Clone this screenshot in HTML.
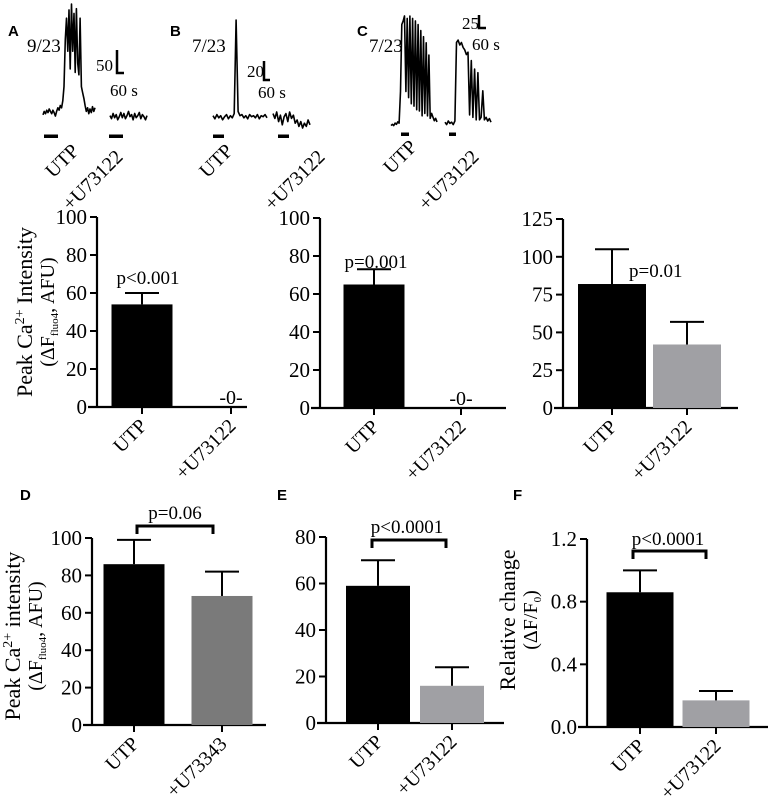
<!DOCTYPE html>
<html><head><meta charset="utf-8"><style>
body{margin:0;background:#fff;}
svg{display:block;}
text{font-family:"Liberation Serif","Times New Roman",serif;}
text.lt{font-family:"Liberation Sans",Arial,sans-serif;font-weight:bold;font-size:15px;}
</style></head><body>
<svg id="fig" width="772" height="807" viewBox="0 0 772 807">
<g id="traces"></g>
<g id="charts"></g>
</svg>
<script>
// ---- bar chart data ----
const catsABC = ["UTP", "+U73122"];
const catsD = ["UTP", "+U73343"];
const valsA = [54, 0];  const errA = [6, 0];
const valsB = [65, 0];  const errB = [8, 0];
const valsC = [82, 42]; const errC = [23, 15];
const valsD = [86, 69]; const errD = [13, 13];
const valsE = [59, 16]; const errE = [11, 8];
const valsF = [0.86, 0.17]; const errF = [0.14, 0.06];
const ticksA = [0, 20, 40, 60, 80, 100];
const ticksC = [0, 25, 50, 75, 100, 125];
const ticksE = [0, 20, 40, 60, 80];
const ticksF = [0, 0.4, 0.8, 1.2];
// ---- trace data (arbitrary fluorescence units) ----
const traceA1 = [6,9,7,10,8,11,9,7,10,8,5,9,12,10,14,12,18,30,70,88,60,95,45,100,60,92,42,96,50,40,88,30,25,20,14,9,12,7,11,8,13,9,12];
const traceA2 = [10,7,12,8,11,6,9,13,8,12,7,10,14,9,11,6,12,8,10,13,7,11,9,6,10];
const traceB1 = [8,5,9,6,8,4,7,9,5,8,6,10,100,12,8,9,6,8,5,9,7,8,6,9,5,8,7,9,6];
const traceB2 = [9,6,10,4,8,2,7,9,4,10,6,8,3,5,1,4,0,3,1,5,2];
const traceC1 = [2,3,2,4,3,5,4,30,85,88,92,30,90,25,92,20,90,18,88,15,85,14,80,10,75,12,70,10,60,8,12,9,6,8,5];
const traceC2 = [4,2,5,3,4,2,5,70,72,68,70,66,64,60,62,10,55,8,48,6,45,6,8,30,6,8,5,7,4];

const NS = "http://www.w3.org/2000/svg";
const SERIF = '"Liberation Serif", "Times New Roman", serif';
function mk(parent, tag, attrs, name, text){
  const e = document.createElementNS(NS, tag);
  for (const k in attrs) e.setAttribute(k, attrs[k]);
  
  
  if (tag === 'text' && !attrs['class']) e.setAttribute('font-family', SERIF);
  if (text !== undefined) e.textContent = text;
  parent.appendChild(e);
  return e;
}
const T = document.getElementById('traces');
const C = document.getElementById('charts');

function trace(vals, x0, x1, yBase, yTop, vmax, name){
  const pts = vals.map((v,i)=>{
    const x = x0 + (x1-x0)*i/(vals.length-1);
    const y = yBase - (yBase-yTop)*v/vmax;
    return x.toFixed(1)+','+y.toFixed(1);
  }).join(' ');
  mk(T,'polyline',{points:pts,fill:'none',stroke:'#000','stroke-width':1.6,'stroke-linejoin':'round'},name);
}
function stimBar(x0,x1,y,name){ mk(T,'rect',{x:x0,y:y-1.5,width:x1-x0,height:3.5,fill:'#000'},name); }
function rotLabel(parent,text,x,y,size,name){
  mk(parent,'text',{x:0,y:0,'text-anchor':'end','font-size':size,transform:`translate(${x} ${y}) rotate(-45)`},name,text);
}
function txt(parent,text,x,y,size,name,anchor){
  return mk(parent,'text',{x:x,y:y,'font-size':size,'text-anchor':anchor||'start'},name,text);
}

// Panel letters
[['A',8,36],['B',170,36],['C',357,36],['D',20,500],['E',277,500],['F',513,500]].forEach(p=>{
  mk(C,'text',{x:p[1],y:p[2],class:'lt'},'panel-label-'+p[0].toLowerCase(),p[0]);
});

// Traces A
trace(traceA1, 43, 95, 122, 4, 100, 'trace-a-utp');
trace(traceA2, 110, 147, 126, 100, 25, 'trace-a-u73122');
stimBar(44,58,136,'stim-bar-a-utp'); stimBar(109,123,136,'stim-bar-a-u73122');
txt(T,'9/23',27,52,19,'cell-count-a');
mk(T,'polyline',{points:'117,50 117,73 124,73',fill:'none',stroke:'#000','stroke-width':2.5},'scale-bar-a');
txt(T,'50',96,71,17,'scale-y-a'); txt(T,'60 s',110,96,17,'scale-x-a');
rotLabel(T,'UTP',80,152,20,'trace-label-a-utp'); rotLabel(T,'+U73122',124,158,20,'trace-label-a-u73122');

// Traces B
trace(traceB1, 213, 267, 124, 20, 100, 'trace-b-utp');
trace(traceB2, 273, 310, 128, 112, 10, 'trace-b-u73122');
stimBar(213,224,136,'stim-bar-b-utp'); stimBar(278,289,136,'stim-bar-b-u73122');
txt(T,'7/23',192,52,19,'cell-count-b');
mk(T,'polyline',{points:'264,61 264,80 270,80',fill:'none',stroke:'#000','stroke-width':2.5},'scale-bar-b');
txt(T,'20',247,77,17,'scale-y-b'); txt(T,'60 s',258,98,17,'scale-x-b');
rotLabel(T,'UTP',234,152,20,'trace-label-b-utp'); rotLabel(T,'+U73122',326,158,20,'trace-label-b-u73122');

// Traces C
trace(traceC1, 391, 437, 128, 16, 92, 'trace-c-utp');
trace(traceC2, 445, 491, 127, 16, 92, 'trace-c-u73122');
stimBar(401,409,134,'stim-bar-c-utp'); stimBar(449,456,134,'stim-bar-c-u73122');
txt(T,'7/23',369,52,19,'cell-count-c');
mk(T,'polyline',{points:'479,15 479,28 486,28',fill:'none',stroke:'#000','stroke-width':2.5},'scale-bar-c');
txt(T,'25',462,29,17,'scale-y-c'); txt(T,'60 s',472,50,17,'scale-x-c');
rotLabel(T,'UTP',418,148,20,'trace-label-c-utp'); rotLabel(T,'+U73122',480,158,20,'trace-label-c-u73122');

// Bar chart builder
function barChart(o){
  const g = mk(C,'g',{},o.name);
  const ys = v => o.y0 - (o.y0-o.yTop)*v/o.max;
  mk(g,'line',{x1:o.ax,y1:o.yTop,x2:o.ax,y2:o.y0,stroke:'#000','stroke-width':2.2},'y-axis');
  mk(g,'line',{x1:o.ax-9,y1:o.y0,x2:o.axEnd,y2:o.y0,stroke:'#000','stroke-width':2.2},'x-axis');
  o.ticks.forEach(t=>{
    const y = ys(t);
    mk(g,'line',{x1:o.ax-7,y1:y,x2:o.ax,y2:y,stroke:'#000','stroke-width':2},'y-tick');
    txt(g,o.fmt?o.fmt(t):String(t),o.ax-10,y+7,21,'y-tick-label','end');
  });
  o.cats.forEach((c,i)=>{
    const cx = o.bx[i];
    const v = o.vals[i], e = o.errs[i];
    const top = ys(v);
    if (v>0){
      mk(g,'rect',{x:cx-o.bw/2,y:top,width:o.bw,height:o.y0-top,fill:o.colors[i]},'bar-'+i);
    }
    if (e>0){
      const et = ys(v+e);
      mk(g,'line',{x1:cx,y1:top,x2:cx,y2:et,stroke:'#000','stroke-width':2},'error-bar-'+i);
      mk(g,'line',{x1:cx-17,y1:et,x2:cx+17,y2:et,stroke:'#000','stroke-width':2},'error-cap-'+i);
    }
    mk(g,'line',{x1:cx,y1:o.y0,x2:cx,y2:o.y0+7,stroke:'#000','stroke-width':2},'x-tick');
    rotLabel(g,c,cx+6,o.y0+20,20,'x-label-'+i);
    if (v===0 && o.zeroMark) txt(g,'-0-',cx,o.y0-3,20,'zero-mark','middle');
  });
  if (o.p) txt(g,o.p.text,o.p.x,o.p.y,19,'p-value',o.p.anchor||'middle');
  if (o.bracket){
    const b=o.bracket;
    mk(g,'polyline',{points:`${b.x0},${b.y+8} ${b.x0},${b.y} ${b.x1},${b.y} ${b.x1},${b.y+8}`,fill:'none',stroke:'#000','stroke-width':3},'significance-bracket');
  }
  return g;
}

barChart({name:'chart-a',ax:97,axEnd:247,yTop:217,y0:407,max:100,ticks:ticksA,cats:catsABC,vals:valsA,errs:errA,bx:[142,231],bw:61,colors:['#000','#000'],zeroMark:true,p:{text:'p<0.001',x:148,y:284}});
barChart({name:'chart-b',ax:320,axEnd:506,yTop:218,y0:408,max:100,ticks:ticksA,cats:catsABC,vals:valsB,errs:errB,bx:[374,461],bw:61,colors:['#000','#000'],zeroMark:true,p:{text:'p=0.001',x:376,y:268}});
barChart({name:'chart-c',ax:563,axEnd:738,yTop:219,y0:408,max:125,ticks:ticksC,cats:catsABC,vals:valsC,errs:errC,bx:[612,687],bw:68,colors:['#000','#a0a0a4'],p:{text:'p=0.01',x:629,y:277,anchor:'start'}});
barChart({name:'chart-d',ax:92,axEnd:266,yTop:538,y0:725,max:100,ticks:ticksA,cats:catsD,vals:valsD,errs:errD,bx:[134,222],bw:61,colors:['#000','#7a7a7a'],p:{text:'p=0.06',x:175,y:519},bracket:{x0:137,x1:213,y:526}});
barChart({name:'chart-e',ax:326,axEnd:504,yTop:537,y0:723,max:80,ticks:ticksE,cats:catsABC,vals:valsE,errs:errE,bx:[378,452],bw:64,colors:['#000','#a0a0a4'],p:{text:'p<0.0001',x:407,y:533},bracket:{x0:372,x1:446,y:540}});
barChart({name:'chart-f',ax:587,axEnd:768,yTop:539,y0:727,max:1.2,ticks:ticksF,fmt:t=>t.toFixed(1),cats:catsABC,vals:valsF,errs:errF,bx:[640,716],bw:67,colors:['#000','#a0a0a4'],p:{text:'p<0.0001',x:668,y:545},bracket:{x0:633,x1:706,y:551}});

// y-axis titles
function yTitle(lines, cx, cy, name){
  const g = mk(C,'g',{transform:`translate(${cx} ${cy}) rotate(-90)`},name);
  lines.forEach(l=>{ const t = mk(g,'text',{x:0,y:l.dy,'text-anchor':'middle','font-size':l.size},name+'-line'); t.innerHTML = l.html; });
}
yTitle([{dy:0,size:22,html:'Peak Ca<tspan dy="-8" font-size="14">2+</tspan><tspan dy="8"> Intensity</tspan>'},
        {dy:22,size:20,html:'(ΔF<tspan dy="4" font-size="11">fluo4</tspan><tspan dy="-4">, AFU)</tspan>'}],32,312,'y-title-a');
yTitle([{dy:0,size:22,html:'Peak Ca<tspan dy="-8" font-size="14">2+</tspan><tspan dy="8"> intensity</tspan>'},
        {dy:22,size:20,html:'(ΔF<tspan dy="4" font-size="11">fluo4</tspan><tspan dy="-4">, AFU)</tspan>'}],20,636,'y-title-d');
yTitle([{dy:0,size:22,html:'Relative change'},
        {dy:22,size:20,html:'(ΔF/F<tspan dy="4" font-size="11">0</tspan><tspan dy="-4">)</tspan>'}],515,620,'y-title-f');
</script>
</body></html>
